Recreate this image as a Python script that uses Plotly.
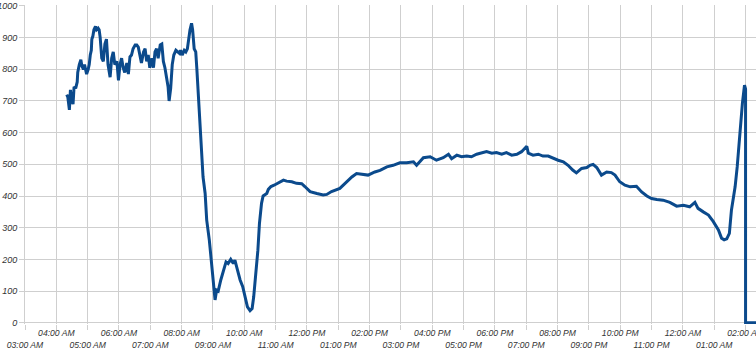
import plotly.graph_objects as go
from datetime import datetime, timedelta

# ---- data ----
times = [
    "04:20", "04:22", "04:25", "04:27", "04:29", "04:32", "04:34", "04:37", "04:40", "04:41",
    "04:44", "04:47", "04:49", "04:52", "04:54", "04:56", "04:58", "05:01", "05:03", "05:05",
    "05:07", "05:08", "05:10", "05:12", "05:15", "05:17", "05:20", "05:22", "05:24", "05:27",
    "05:30", "05:33", "05:36", "05:39", "05:43", "05:46", "05:49", "05:52", "05:56", "05:59",
    "06:02", "06:05", "06:08", "06:11", "06:15", "06:18", "06:21", "06:24", "06:27", "06:31",
    "06:34", "06:37", "06:40", "06:43", "06:47", "06:50", "06:53", "06:56", "06:59", "07:03",
    "07:06", "07:09", "07:12", "07:15", "07:19", "07:22", "07:25", "07:28", "07:31", "07:34",
    "07:36", "07:39", "07:42", "07:45", "07:49", "07:52", "07:56", "07:58", "08:01", "08:05",
    "08:08", "08:11", "08:14", "08:16", "08:19", "08:21", "08:24", "08:27", "08:29", "08:31",
    "08:33", "08:35", "08:38", "08:41", "08:45", "08:48", "08:53", "08:58", "09:01", "09:04",
    "09:07", "09:10", "09:15", "09:20", "09:25", "09:29", "09:34", "09:39", "09:42", "09:47",
    "09:52", "09:57", "10:01", "10:06", "10:11", "10:15", "10:18", "10:22", "10:26", "10:29",
    "10:33", "10:36", "10:40", "10:43", "10:46", "10:51", "10:57", "11:05", "11:15", "11:21",
    "11:31", "11:40", "11:50", "11:56", "12:06", "12:19", "12:31", "12:38", "12:47", "13:03",
    "13:16", "13:26", "13:35", "13:48", "13:57", "14:10", "14:20", "14:33", "14:45", "14:58",
    "15:11", "15:24", "15:30", "15:43", "15:56", "16:08", "16:21", "16:31", "16:37", "16:47",
    "16:56", "17:06", "17:15", "17:25", "17:35", "17:44", "17:54", "18:03", "18:13", "18:22",
    "18:32", "18:42", "18:51", "19:01", "19:04", "19:13", "19:23", "19:32", "19:42", "19:52",
    "20:01", "20:11", "20:20", "20:29", "20:36", "20:46", "20:56", "21:02", "21:08", "21:15",
    "21:24", "21:34", "21:43", "21:50", "21:59", "22:09", "22:19", "22:31", "22:41", "22:51",
    "23:00", "23:10", "23:22", "23:35", "23:48", "00:01", "00:13", "00:23", "00:29", "00:39",
    "00:49", "00:58", "01:08", "01:14", "01:19", "01:24", "01:29", "01:33", "01:40", "01:44",
    "01:49", "01:54", "01:58", "02:00", "02:00", "02:30",
]
values = [
    720, 712, 672, 735, 705, 690, 745, 740, 760, 790,
    815, 830, 810, 800, 815, 795, 785, 800, 815, 845,
    860, 895, 905, 925, 935, 925, 930, 925, 900, 835,
    825, 880, 895, 815, 775, 835, 855, 815, 825, 765,
    815, 835, 805, 790, 820, 785, 839, 845, 865, 877,
    877, 870, 845, 820, 855, 865, 825, 845, 805, 835,
    805, 855, 865, 835, 877, 880, 825, 805, 775, 745,
    700, 740, 815, 845, 860, 855, 850, 860, 845, 860,
    855, 865, 915, 925, 945, 925, 865, 855, 805, 750,
    700, 620, 567, 460, 408, 324, 261, 177, 125, 72,
    103, 100, 135, 161, 192, 187, 200, 187, 198, 166,
    135, 114, 82, 50, 38, 45, 82, 157, 229, 313,
    377, 400, 405, 408, 421, 430, 434, 442, 450, 447,
    445, 440, 439, 430, 414, 408, 403, 405, 414, 424,
    445, 460, 471, 469, 466, 476, 481, 492, 497, 505,
    505, 508, 497, 521, 524, 513, 521, 532, 518, 529,
    524, 526, 524, 532, 535, 540, 535, 537, 532, 537,
    529, 532, 540, 557, 535, 529, 532, 526, 526, 518,
    513, 508, 497, 482, 473, 487, 490, 497, 500, 490,
    466, 476, 474, 466, 445, 434, 429, 431, 413, 400,
    392, 389, 387, 380, 368, 371, 366, 380, 361, 350,
    340, 320, 293, 267, 262, 265, 282, 356, 429, 492,
    600, 693, 750, 738, 0, 0,
]
hour_labels = [
    "03:00 AM", "04:00 AM", "05:00 AM", "06:00 AM", "07:00 AM", "08:00 AM",
    "09:00 AM", "10:00 AM", "11:00 AM", "12:00 PM", "01:00 PM", "02:00 PM",
    "03:00 PM", "04:00 PM", "05:00 PM", "06:00 PM", "07:00 PM", "08:00 PM",
    "09:00 PM", "10:00 PM", "11:00 PM", "12:00 AM", "01:00 AM", "02:00 AM",
]
y_ticks = [0, 100, 200, 300, 400, 500, 600, 700, 800, 900, 1000]

# ---- build datetimes ----
base = datetime(2013, 1, 1)
xs = []
for t in times:
    hh, mm = map(int, t.split(":"))
    d = base + timedelta(hours=hh, minutes=mm)
    if hh < 3:
        d += timedelta(days=1)
    xs.append(d)

tickvals = [base + timedelta(hours=3 + i) for i in range(len(hour_labels))]
ticktext = []
for i, lab in enumerate(hour_labels):
    ticktext.append(lab if i % 2 == 1 else " <br>" + lab)

grid = "#cfcfcf"
font = dict(family="Liberation Sans, Arial, sans-serif", size=9, color="#333333", style="italic")
xfont = dict(family="Liberation Sans, Arial, sans-serif", size=8.6, color="#333333", style="italic")

fig = go.Figure()
fig.add_trace(go.Scatter(
    x=xs, y=values, mode="lines",
    line=dict(color="#0b4a8c", width=3),
    hoverinfo="skip", showlegend=False,
))

fig.update_layout(
    width=756, height=352,
    margin=dict(l=25, r=0, t=5, b=28, autoexpand=False),
    paper_bgcolor="white", plot_bgcolor="white",
    showlegend=False,
)
fig.update_xaxes(
    type="date",
    range=[base + timedelta(hours=3), base + timedelta(hours=26, minutes=20)],
    tickmode="array", tickvals=tickvals, ticktext=ticktext,
    showgrid=True, gridcolor=grid, gridwidth=1,
    ticks="outside", ticklen=5, tickcolor=grid,
    tickfont=xfont, tickangle=0, automargin=False,
    ticklabelstandoff=-4, ticklabeloverflow="allow",
    showline=False, zeroline=False,
)
fig.update_yaxes(
    range=[-4, 1003],
    tickmode="array", tickvals=y_ticks,
    showgrid=True, gridcolor=grid, gridwidth=1,
    ticks="outside", ticklen=5, tickcolor=grid,
    showline=True, linecolor=grid, linewidth=1,
    tickfont=font, automargin=False, zeroline=False,
)

fig.write_html("out.html")
